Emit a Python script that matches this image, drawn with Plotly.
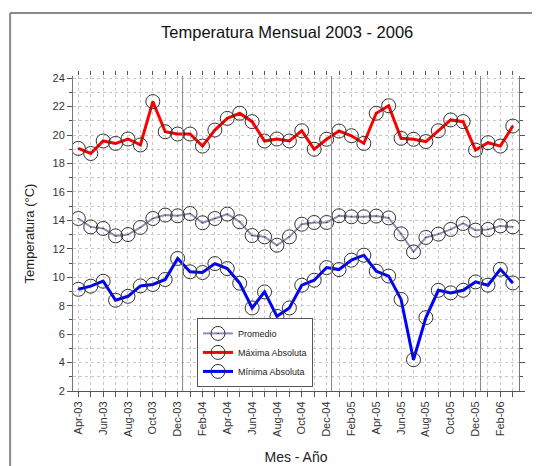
import plotly.graph_objects as go

# monthly series Apr-03 .. Mar-06
months = ["Apr-03", "May-03", "Jun-03", "Jul-03", "Aug-03", "Sep-03", "Oct-03", "Nov-03", "Dec-03",
          "Jan-04", "Feb-04", "Mar-04", "Apr-04", "May-04", "Jun-04", "Jul-04", "Aug-04", "Sep-04",
          "Oct-04", "Nov-04", "Dec-04", "Jan-05", "Feb-05", "Mar-05", "Apr-05", "May-05", "Jun-05",
          "Jul-05", "Aug-05", "Sep-05", "Oct-05", "Nov-05", "Dec-05", "Jan-06", "Feb-06", "Mar-06"]

promedio = [14.13, 13.54, 13.43, 12.91, 13.0, 13.5, 14.13, 14.37, 14.32, 14.48, 13.83, 14.13,
            14.44, 13.9, 12.93, 12.84, 12.25, 12.84, 13.73, 13.85, 13.85, 14.32, 14.25, 14.25,
            14.3, 14.17, 13.05, 11.78, 12.8, 13.03, 13.36, 13.78, 13.31, 13.36, 13.61, 13.54]

maxima = [19.06, 18.7, 19.58, 19.41, 19.72, 19.3, 22.35, 20.23, 20.07, 20.07, 19.22, 20.35,
          21.17, 21.53, 20.94, 19.58, 19.72, 19.58, 20.3, 19.0, 19.7, 20.28, 19.95, 19.41,
          21.53, 22.06, 19.77, 19.7, 19.54, 20.3, 21.06, 20.94, 18.94, 19.46, 19.22, 20.63]

minima = [9.15, 9.37, 9.72, 8.38, 8.66, 9.39, 9.49, 9.84, 11.32, 10.38, 10.33, 10.96,
          10.61, 9.58, 7.84, 8.97, 7.25, 7.84, 9.44, 9.79, 10.68, 10.54, 11.2, 11.55,
          10.42, 10.08, 8.44, 4.2, 7.16, 9.08, 8.9, 9.08, 9.67, 9.44, 10.56, 9.6]

# year separators (between Dec and Jan)
year_breaks = [8.4, 20.4, 32.4]

idx = list(range(len(months)))
tick_text = [m if i % 2 == 0 else "" for i, m in enumerate(months)]

marker = dict(symbol="circle-open-dot", size=14, color="#333333", line=dict(width=1))

fig = go.Figure()
fig.add_trace(go.Scatter(x=idx, y=promedio, name="Promedio", mode="lines+markers",
                         line=dict(color="#8e8eb0", width=2), marker=marker))
fig.add_trace(go.Scatter(x=idx, y=maxima, name="Máxima Absoluta", mode="lines+markers",
                         line=dict(color="#ff0000", width=3), marker=marker))
fig.add_trace(go.Scatter(x=idx, y=minima, name="Mínima Absoluta", mode="lines+markers",
                         line=dict(color="#0000ff", width=3), marker=marker))
# invisible trace so the top tick axis is drawn
fig.add_trace(go.Scatter(x=[0], y=[2], xaxis="x2", mode="markers", showlegend=False,
                         marker=dict(opacity=0), hoverinfo="skip"))

# outer frame (left and top edges)
frame = dict(color="#8a8a8a", width=2)
shapes = [
    dict(type="line", xref="paper", yref="paper", x0=-0.141, x1=-0.141, y0=-0.3, y1=1.2, line=frame),
    dict(type="line", xref="paper", yref="paper", x0=-0.141, x1=1.1, y0=1.2, y1=1.2, line=frame),
]

grid = dict(showgrid=True, gridcolor="#c8c8c8", griddash="dot", gridwidth=1)

fig.update_layout(
    width=540, height=466,
    margin=dict(l=65, r=29, t=68, b=83),
    paper_bgcolor="white", plot_bgcolor="white",
    font=dict(family="Liberation Sans, Arial, sans-serif", color="#222222"),
    title=dict(text="Temperatura Mensual 2003 - 2006", x=0.517, xanchor="center",
               y=0.948, yanchor="middle", font=dict(size=16.5, color="#111111")),
    showlegend=True,
    legend=dict(x=0.278, y=0.232, xanchor="left", yanchor="top",
                bgcolor="white", bordercolor="#555555", borderwidth=1,
                font=dict(size=9, color="#222222"), tracegroupgap=0, itemwidth=30),
    xaxis=dict(range=[-0.43, 35.5], tickmode="array", tickvals=idx, ticktext=tick_text,
               tickangle=-90, tickfont=dict(size=11, color="#333333"),
               ticks="outside", ticklen=5, tickcolor="#555555", automargin=False,
               showline=True, linecolor="#555555", linewidth=1, zeroline=False,
               title=dict(text="Mes - Año", font=dict(size=14, color="#222222"), standoff=16),
               **grid),
    xaxis2=dict(range=[-0.43, 35.5], overlaying="x", side="top", tickmode="array",
                tickvals=idx, showticklabels=False, ticks="outside", ticklen=4, automargin=False,
                tickcolor="#555555", showline=False, showgrid=False, zeroline=False),
    yaxis=dict(range=[2, 24.15], dtick=2, tick0=0, tickfont=dict(size=11, color="#333333"),
               ticks="outside", ticklen=5, tickcolor="#555555", automargin=False,
               showline=True, linecolor="#777777", linewidth=1, mirror="ticks", zeroline=False,
               minor=dict(dtick=1, ticks="outside", ticklen=3, tickcolor="#555555",
                          showgrid=True, gridcolor="#c8c8c8", griddash="dot"),
               title=dict(text="Temperatura (°C)", font=dict(size=13, color="#222222"), standoff=14),
               **grid),
    shapes=shapes,
)

for xb in year_breaks:
    fig.add_vline(x=xb, line=dict(color="#888888", width=1))

fig.write_html("out.html")
